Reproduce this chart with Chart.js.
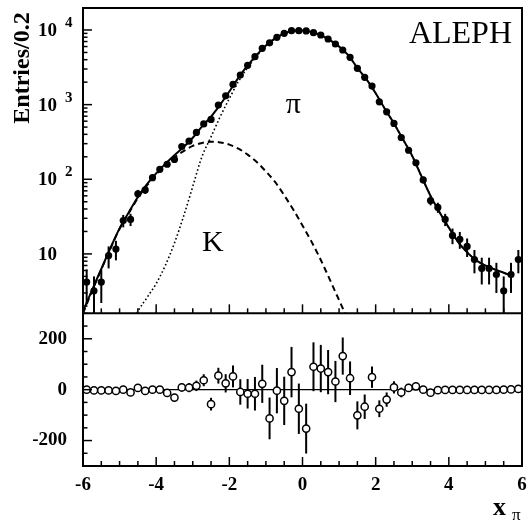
<!DOCTYPE html>
<html>
<head>
<meta charset="utf-8">
<script src="https://cdn.jsdelivr.net/npm/chart.js@4.4.0/dist/chart.umd.min.js"></script>
<style>
  body { margin: 0; background: #fff; }
  #wrap { width: 531px; height: 524px; }
</style>
</head>
<body>
<div id="wrap"><canvas id="chart" width="531" height="524"></canvas></div>
<script>
// histogram of x_pi, bin width 0.2
const bins = [-5.9, -5.7, -5.5, -5.3, -5.1, -4.9, -4.7, -4.5, -4.3, -4.1,
  -3.9, -3.7, -3.5, -3.3, -3.1, -2.9, -2.7, -2.5, -2.3, -2.1,
  -1.9, -1.7, -1.5, -1.3, -1.1, -0.9, -0.7, -0.5, -0.3, -0.1,
  0.1, 0.3, 0.5, 0.7, 0.9, 1.1, 1.3, 1.5, 1.7, 1.9,
  2.1, 2.3, 2.5, 2.7, 2.9, 3.1, 3.3, 3.5, 3.7, 3.9,
  4.1, 4.3, 4.5, 4.7, 4.9, 5.1, 5.3, 5.5, 5.7, 5.9];
const entries = [4.2, 3.2, 4.2, 9.5, 11.6, 28, 29, 64, 72, 105,
  136, 159, 184, 275, 324, 424, 552, 633, 985, 1312,
  1867, 2488, 3360, 4385, 5680, 6720, 7980, 9030, 9790, 9790,
  9700, 9200, 8570, 7570, 6490, 5390, 4300, 3060, 2320, 1770,
  1090, 800, 560, 363, 245, 166, 98, 52, 42, 29,
  17.7, 15.7, 12.6, 8.4, 6.4, 6.4, 5.3, 3.2, 5.3, 8.4];
const errors = [2.0, 1.8, 2.0, 3.1, 3.4, 5.3, 5.4, 8, 8.5, 10,
  11.7, 12.6, 13.6, 16.6, 18, 20.6, 23.5, 25, 31, 36,
  43, 50, 58, 66, 75, 82, 89, 95, 99, 99,
  98, 96, 93, 87, 81, 73, 66, 55, 48, 42,
  33, 28, 24, 19, 16, 13, 10, 7.2, 6.5, 5.4,
  4.2, 4.0, 3.5, 2.9, 2.5, 2.5, 2.3, 1.8, 2.3, 2.9];
// data minus fit (lower panel)
const residuals = [0, -3, -3, -3, -5, 0, -11, 7, -5, 0,
  0, -13, -31, 9, 8, 15, 37, -57, 55, 25,
  52, -9, -16, -16, 23, -113, -4, -44, 69, -75,
  -153, 90, 83, 69, 32, 132, 45, -101, -67, 49,
  -75, -39, 9, -11, 7, 13, 0, -12, -2, -1,
  -1, -1, -1, -1, -1, -1, -1, 0, 1, 3];

// fit curves, every 0.25
const curveX = [-6, -5.75, -5.5, -5.25, -5, -4.75, -4.5, -4.25, -4, -3.75,
  -3.5, -3.25, -3, -2.75, -2.5, -2.25, -2, -1.75, -1.5, -1.25,
  -1, -0.75, -0.5, -0.25, 0, 0.25, 0.5, 0.75, 1, 1.25,
  1.5, 1.75, 2, 2.25, 2.5, 2.75, 3, 3.25, 3.5, 3.75,
  4, 4.25, 4.5, 4.75, 5, 5.25, 5.5, 5.75, 6];
const fitTotal = [1.7, 3.3, 6.3, 12, 22, 36, 58, 86, 120, 161,
  210, 270, 360, 506, 690, 1000, 1500, 2300, 3350, 4650,
  6200, 7700, 9000, 9750, 9850, 9400, 8550, 7300, 6000, 4600,
  3100, 2180, 1420, 880, 560, 340, 205, 110, 60, 36,
  22.5, 14.5, 10.5, 8.2, 7.0, 6.2, 5.6, 5.0, null];
const fitPion = [0.1, 0.1, 0.1, 0.15, 0.3, 0.9, 1.7, 2.6, 4.0, 7.0,
  14, 32, 80, 200, 370, 690, 1210, 2040, 3140, 4480,
  6070, 7610, 8940, 9710, 9826, 9385, 8542, 7295, 5998, 4599,
  3100, 2180, 1420, 880, 560, 340, 205, 110, 60, 36,
  22.5, 14.5, 10.5, 8.2, 7.0, 6.2, 5.6, 5.0, null];
const fitKaon = [1.6, 3.2, 6.2, 11.8, 21.7, 35, 56, 83, 116, 154,
  196, 238, 280, 306, 318, 312, 291, 257, 214, 170,
  127, 92, 61, 39, 24, 14.5, 8.3, 4.5, 2.4, 1.3,
  0.7, 0.35, null, null, null, null, null, null, null, null,
  null, null, null, null, null, null, null, null, null];

const xTickLabels = [-6, -4, -2, 0, 2, 4, 6];
const logTickExponents = [1, 2, 3, 4];
const residualTickLabels = [-200, 0, 200];

const serif = '"Liberation Serif", "Times New Roman", serif';

function pairs(xs, ys) {
  return xs.map((x, i) => ({x: x, y: ys[i]}));
}

// error bars, inward ticks, frame and all the labels
const panelDecor = {
  id: "panelDecor",
  beforeDatasetsDraw(chart) {
    const ctx = chart.ctx;
    ctx.save();
    ctx.strokeStyle = "#000";
    ctx.lineWidth = 2;
    chart.data.datasets.forEach((ds, i) => {
      if (!ds.errors) return;
      const meta = chart.getDatasetMeta(i);
      const ys = chart.scales[ds.yAxisID];
      meta.data.forEach((pt, j) => {
        const v = ds.data[j].y;
        const e = ds.errors[j];
        let top = Math.max(ys.getPixelForValue(v + e), ys.top);
        let bot = (ys.type === "logarithmic" && v - e <= ys.min) ? ys.bottom : ys.getPixelForValue(v - e);
        bot = Math.min(bot, ys.bottom);
        ctx.beginPath();
        ctx.moveTo(pt.x, top);
        ctx.lineTo(pt.x, bot);
        ctx.stroke();
      });
    });
    ctx.restore();
  },
  afterDraw(chart) {
    const ctx = chart.ctx;
    const a = chart.chartArea;
    const sx = chart.scales.x, sy = chart.scales.y, sr = chart.scales.y2;
    ctx.save();
    ctx.strokeStyle = "#000";
    ctx.fillStyle = "#000";

    //frame and panel divider
    ctx.lineWidth = 2;
    ctx.strokeRect(a.left, a.top, a.right - a.left, a.bottom - a.top);
    ctx.beginPath();
    ctx.moveTo(a.left, sy.bottom);
    ctx.lineTo(a.right, sy.bottom);
    ctx.stroke();

    //ticks pointing inward
    ctx.lineWidth = 1.5;
    const tick = (x1, y1, x2, y2) => {
      ctx.beginPath();
      ctx.moveTo(x1, y1);
      ctx.lineTo(x2, y2);
      ctx.stroke();
    };
    for (let k = 0; k <= 24; k++) {
      const v = -6 + k * 0.5;
      const px = sx.getPixelForValue(v);
      const len = v % 2 === 0 ? 9 : 5;
      tick(px, sy.bottom, px, sy.bottom - len);
      tick(px, sr.bottom, px, sr.bottom - len);
    }
    for (let d = 0; d <= 4; d++) {
      for (let m = 1; m <= 9; m++) {
        const v = m * Math.pow(10, d);
        if (v < sy.min || v > sy.max) continue;
        const py = sy.getPixelForValue(v);
        tick(a.left, py, a.left + (m === 1 ? 9 : 4.5), py);
      }
    }
    for (let v = -300; v <= 300; v += 50) {
      const py = sr.getPixelForValue(v);
      tick(a.left, py, a.left + (v % 200 === 0 ? 9 : 4.5), py);
    }

    //tick labels
    ctx.font = "bold 19px " + serif;
    ctx.textBaseline = "middle";
    ctx.textAlign = "center";
    xTickLabels.forEach(v => {
      ctx.fillText(String(v), sx.getPixelForValue(v), sr.bottom + 19);
    });
    ctx.textAlign = "right";
    residualTickLabels.forEach(v => {
      ctx.fillText(String(v), a.left - 16, sr.getPixelForValue(v));
    });
    ctx.textAlign = "left";
    logTickExponents.forEach(e => {
      const py = sy.getPixelForValue(Math.pow(10, e));
      ctx.font = "bold 19px " + serif;
      ctx.fillText("10", a.left - 45, py + 1);
      if (e > 1) {
        ctx.font = "bold 15px " + serif;
        ctx.fillText(String(e), a.left - 18, py - 7);
      }
    });

    //axis titles
    ctx.save();
    ctx.translate(23, a.top + 60);
    ctx.rotate(-Math.PI / 2);
    ctx.textAlign = "center";
    ctx.font = "bold 24px " + serif;
    ctx.fillText("Entries/0.2", 0, 0);
    ctx.restore();

    ctx.textBaseline = "alphabetic";
    ctx.textAlign = "left";
    ctx.font = "bold 26px " + serif;
    ctx.fillText("x", 493, 515);
    ctx.font = "17px " + serif;
    ctx.fillText("\u03c0", 512, 520);

    //panel texts
    ctx.font = "32px " + serif;
    ctx.textAlign = "right";
    ctx.fillText("ALEPH", a.right - 10, a.top + 35);
    ctx.textAlign = "center";
    ctx.textBaseline = "middle";
    ctx.font = "30px " + serif;
    ctx.fillText("\u03c0", sx.getPixelForValue(-0.25), sy.getPixelForValue(1000));
    ctx.fillText("K", sx.getPixelForValue(-2.45), sy.getPixelForValue(14));
    ctx.restore();
  }
};

const hiddenAxis = {
  ticks: {display: false},
  grid: {display: false},
  border: {display: false},
};

new Chart(document.getElementById("chart"), {
  type: "line",
  data: {
    datasets: [
      {
        label: "data",
        data: pairs(bins, entries),
        errors: errors,
        yAxisID: "y",
        showLine: false,
        pointRadius: 3.6,
        pointBackgroundColor: "#000",
        pointBorderColor: "#000",
        pointBorderWidth: 0,
      },
      {
        label: "residuals",
        data: pairs(bins, residuals),
        errors: errors,
        yAxisID: "y2",
        showLine: false,
        pointRadius: 3.6,
        pointBackgroundColor: "#fff",
        pointBorderColor: "#000",
        pointBorderWidth: 1.5,
      },
      {
        label: "zero",
        data: [{x: -6, y: 0}, {x: 6, y: 0}],
        yAxisID: "y2",
        borderColor: "#000",
        borderWidth: 1.3,
        pointRadius: 0,
      },
      {
        label: "total fit",
        data: pairs(curveX, fitTotal),
        yAxisID: "y",
        borderColor: "#000",
        borderWidth: 2,
        pointRadius: 0,
        cubicInterpolationMode: "monotone",
        clip: 0,
      },
      {
        label: "K",
        data: pairs(curveX, fitKaon),
        yAxisID: "y",
        borderColor: "#000",
        borderWidth: 2,
        borderDash: [6, 4],
        pointRadius: 0,
        cubicInterpolationMode: "monotone",
        clip: 0,
      },
      {
        label: "pi",
        data: pairs(curveX, fitPion),
        yAxisID: "y",
        borderColor: "#000",
        borderWidth: 1.6,
        borderDash: [1.6, 2.4],
        pointRadius: 0,
        cubicInterpolationMode: "monotone",
        clip: 0,
      },
    ],
  },
  options: {
    responsive: false,
    animation: false,
    devicePixelRatio: 1,
    layout: {padding: {left: 0, right: 9, top: 8, bottom: 0}},
    plugins: {legend: {display: false}, tooltip: {enabled: false}},
    scales: {
      x: Object.assign({type: "linear", min: -6, max: 6,
        afterFit: s => { s.height = 58; }}, hiddenAxis),
      //stacked panels: the scale listed last ends up on top
      y2: Object.assign({type: "linear", min: -300, max: 300,
        position: "left", stack: "panels", stackWeight: 1,
        afterFit: s => { s.width = 83; }}, hiddenAxis),
      y: Object.assign({type: "logarithmic", min: 1.6, max: 19700,
        position: "left", stack: "panels", stackWeight: 2,
        afterFit: s => { s.width = 83; }}, hiddenAxis),
    },
  },
  plugins: [panelDecor],
});
</script>
</body>
</html>
